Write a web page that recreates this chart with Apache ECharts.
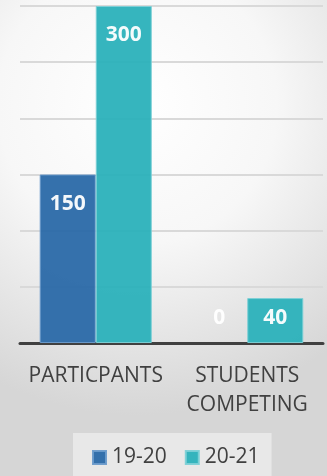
<!DOCTYPE html>
<html>
<head>
<meta charset="utf-8">
<script src="https://cdn.jsdelivr.net/npm/echarts@6/dist/echarts.min.js"></script>
<style>
  html, body { margin: 0; padding: 0; }
  #chart { width: 327px; height: 476px; }
</style>
</head>
<body>
<div id="chart"></div>
<script>
// Chart data
const categories = ['PARTICPANTS', 'STUDENTS\nCOMPETING'];
const seriesNames = ['19-20', '20-21'];
const values1920 = [150, 0];
const values2021 = [300, 40];
const yTicks = [0, 50, 100, 150, 200, 250, 300];

const colors = ['#2a69a8', '#2bb1bb'];
const borders = ['#6b9bcb', '#7dd0d6'];

// Tall bars carry their label near the top, short ones sit just above the axis
function withLabels(values) {
  return values.map(function (v, i) {
    const item = {
      value: v,
      label: i === 0
        ? { position: 'insideTop', distance: 19 }
        : { position: 'insideBottom', distance: 14 }
    };
    if (v === 0) item.itemStyle = { borderWidth: 0 };
    return item;
  });
}

const chart = echarts.init(document.getElementById('chart'));
const font = '"Open Sans", "Liberation Sans", sans-serif';

chart.setOption({
  animation: false,
  backgroundColor: {
    type: 'radial', x: 0.42, y: 0.22, r: 0.95,
    colorStops: [
      { offset: 0, color: '#ffffff' },
      { offset: 0.45, color: '#f7f7f7' },
      { offset: 1, color: '#d6d6d6' }
    ]
  },
  grid: { left: 20, right: 4, top: 6, bottom: 133, containLabel: false },
  legend: {
    data: seriesNames,
    left: 73,
    top: 433,
    padding: [14, 12, 20, 19],
    backgroundColor: '#e8e8e8',
    itemWidth: 13,
    itemHeight: 13,
    itemGap: 18,
    icon: 'rect',
    textStyle: { fontFamily: font, fontSize: 21, color: '#404040', padding: [0, 0, 0, 1] }
  },
  xAxis: {
    type: 'category',
    data: categories,
    axisLine: { lineStyle: { color: '#404040', width: 3 } },
    axisTick: { show: false },
    axisLabel: {
      interval: 0,
      margin: 19,
      fontFamily: font,
      fontSize: 21,
      lineHeight: 29,
      color: '#404040'
    }
  },
  yAxis: {
    type: 'value',
    min: yTicks[0],
    max: yTicks[yTicks.length - 1],
    interval: yTicks[1] - yTicks[0],
    axisLabel: { show: false },
    axisLine: { show: false },
    axisTick: { show: false },
    splitLine: { lineStyle: { color: '#d9d9d9', width: 2 } }
  },
  series: [
    {
      name: seriesNames[0],
      type: 'bar',
      data: withLabels(values1920),
      barGap: '0%',
      barCategoryGap: '26%',
      itemStyle: { color: colors[0], borderColor: borders[0], borderWidth: 1, opacity: 0.95 },
      label: {
        show: true,
        color: '#ffffff',
        fontFamily: font,
        fontWeight: 'bold',
        fontSize: 21
      }
    },
    {
      name: seriesNames[1],
      type: 'bar',
      data: withLabels(values2021),
      barGap: '0%',
      barCategoryGap: '26%',
      itemStyle: { color: colors[1], borderColor: borders[1], borderWidth: 1, opacity: 0.95 },
      label: {
        show: true,
        color: '#ffffff',
        fontFamily: font,
        fontWeight: 'bold',
        fontSize: 21
      }
    }
  ]
});
</script>
</body>
</html>
